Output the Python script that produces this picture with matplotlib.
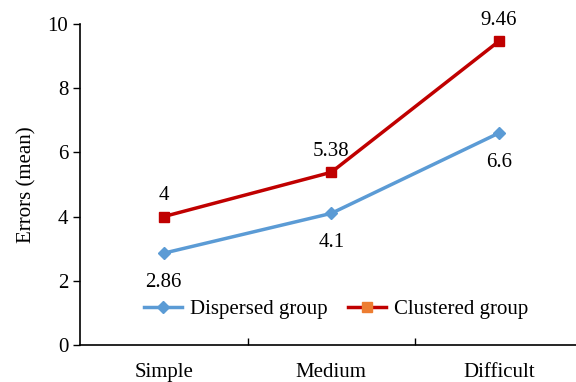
import matplotlib.pyplot as plt
from matplotlib.lines import Line2D

plt.rcParams['font.family'] = ['Liberation Serif', 'DejaVu Serif']

categories = ['Simple', 'Medium', 'Difficult']
dispersed = [2.86, 4.1, 6.6]
clustered = [4, 5.38, 9.46]

blue = '#5B9BD5'
red = '#C00000'
fs = 15

fig = plt.figure(figsize=(5.76, 3.82), dpi=100)
ax = fig.add_axes([0.1389, 0.0969, 0.8724, 0.8403])

x = range(len(categories))
ax.plot(x, dispersed, color=blue, lw=2.5, marker='D', ms=6.5, mfc=blue, mec=blue)
ax.plot(x, clustered, color=red, lw=2.5, marker='s', ms=6.5, mfc=red, mec=red)

for i, v in enumerate(dispersed):
    ax.annotate(f'{v:g}', (i, v), xytext=(0, -14), textcoords='offset points',
                ha='center', va='top', fontsize=fs)
for i, v in enumerate(clustered):
    ax.annotate(f'{v:g}', (i, v), xytext=(0, 8), textcoords='offset points',
                ha='center', va='bottom', fontsize=fs)

ax.set_xlim(-0.5, 2.5)
ax.set_ylim(0, 10)
ax.set_yticks(range(0, 11, 2))
ax.set_xticks([0.5, 1.5])
ax.set_xticklabels([])
ax.tick_params(axis='x', direction='in', length=5, width=1)
ax.tick_params(axis='y', direction='out', length=5, width=1, labelsize=fs)
for i, c in enumerate(categories):
    ax.text(i, -0.55, c, ha='center', va='top', fontsize=fs,
            transform=ax.transData, clip_on=False)

for s in ['top', 'right']:
    ax.spines[s].set_visible(False)
ax.spines['left'].set_linewidth(1.2)
ax.spines['bottom'].set_linewidth(1.2)

ax.set_ylabel('Errors (mean)', fontsize=fs, labelpad=8)

handles = [
    Line2D([], [], color=blue, lw=2.5, marker='D', ms=6.5, mfc=blue, mec=blue),
    Line2D([], [], color=red, lw=2.5, marker='s', ms=6.5, mfc='#ED7D31', mec='#ED7D31'),
]
ax.legend(handles, ['Dispersed group', 'Clustered group'], ncol=2, frameon=False,
          fontsize=fs, loc='center', bbox_to_anchor=(1.03, 1.1),
          bbox_transform=ax.transData, handlelength=1.8, columnspacing=1.0,
          handletextpad=0.4)

fig.savefig('out.png', dpi=100)
